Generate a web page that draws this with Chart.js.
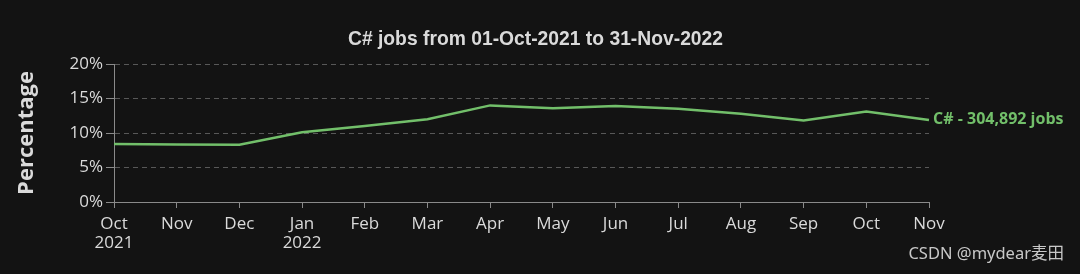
<!DOCTYPE html>
<html>
<head>
<meta charset="utf-8">
<script src="https://cdn.jsdelivr.net/npm/chart.js@4/dist/chart.umd.min.js"></script>
<style>
  html, body { margin: 0; padding: 0; background: #131313; }
  #wrap { width: 1080px; height: 274px; }
</style>
</head>
<body>
<div id="wrap"><canvas id="jobsChart" width="1080" height="274"></canvas></div>
<script>
// months on the x axis (two-line labels where the year changes)
const months = [
  ["Oct", "2021"], "Nov", "Dec", ["Jan", "2022"], "Feb", "Mar", "Apr",
  "May", "Jun", "Jul", "Aug", "Sep", "Oct", "Nov"
];
// share of C# jobs, percent
const csharpShare = [8.4, 8.35, 8.3, 10.1, 11.0, 12.0, 14.0, 13.6, 13.9, 13.5, 12.8, 11.8, 13.1, 11.9];
const yTicks = [0, 5, 10, 15, 20];
const seriesLabel = "C# - 304,892 jobs";
const chartTitle = "C# jobs from 01-Oct-2021 to 31-Nov-2022";
const watermark = "CSDN @mydear麦田";

const lineColor = "#72bf6a";
const textColor = "#dadada";
const tickFont = { family: "'Open Sans', 'Noto Sans', sans-serif", size: 17 };

// title (centred on the page, not the plot), end-of-line label and watermark
const overlayText = {
  id: "overlayText",
  afterDatasetsDraw(chart) {
    const ctx = chart.ctx;
    const meta = chart.getDatasetMeta(0);
    const last = meta.data[meta.data.length - 1];
    ctx.save();
    ctx.font = "bold 19.3px 'Liberation Sans', Arial, sans-serif";
    ctx.fillStyle = textColor;
    ctx.textAlign = "center";
    ctx.textBaseline = "middle";
    ctx.fillText(chartTitle, 535.5, 40);

    ctx.font = "bold 16px 'Open Sans', sans-serif";
    ctx.fillStyle = lineColor;
    ctx.textAlign = "left";
    ctx.fillText(seriesLabel, last.x + 4, last.y);

    ctx.font = "16.5px 'Noto Sans', 'Noto Sans CJK SC', sans-serif";
    ctx.fillStyle = "#c8c8c8";
    ctx.textAlign = "right";
    ctx.fillText(watermark, 1064, 254);
    ctx.restore();
  }
};

const ctx = document.getElementById("jobsChart").getContext("2d");
new Chart(ctx, {
  type: "line",
  data: {
    labels: months,
    datasets: [{
      label: seriesLabel,
      data: csharpShare,
      borderColor: lineColor,
      borderWidth: 2.5,
      pointRadius: 0,
      tension: 0,
      fill: false
    }]
  },
  options: {
    responsive: false,
    animation: false,
    layout: { padding: { left: 0, right: 151, top: 64, bottom: 0 } },
    plugins: {
      legend: { display: false },
      tooltip: { enabled: false },
      title: { display: false }
    },
    scales: {
      x: {
        offset: false,
        afterFit(scale) { scale.height = 72; },
        border: { display: true, color: "#8a8a8a", width: 1 },
        grid: { drawOnChartArea: false, drawTicks: true, tickLength: 6, color: "#8a8a8a" },
        ticks: {
          color: textColor,
          font: { ...tickFont, lineHeight: 1.15 },
          padding: 6,
          maxRotation: 0,
          autoSkip: false
        }
      },
      y: {
        min: 0,
        max: 20,
        afterFit(scale) { scale.width = 114; },
        afterBuildTicks(scale) { scale.ticks = yTicks.map(v => ({ value: v })); },
        border: { display: true, color: "#8a8a8a", width: 1, dash: [5, 4] },
        grid: {
          color: "#585858",
          tickBorderDash: [],
          tickColor: "#8a8a8a",
          drawTicks: true,
          tickLength: 8
        },
        ticks: {
          color: textColor,
          font: tickFont,
          padding: 3,
          callback: v => v + "%"
        },
        title: {
          display: true,
          text: "Percentage",
          color: textColor,
          font: { family: "'Open Sans', sans-serif", size: 22, weight: "bold" },
          padding: { top: 14, bottom: 0 }
        }
      }
    }
  },
  plugins: [overlayText]
});
</script>
</body>
</html>
